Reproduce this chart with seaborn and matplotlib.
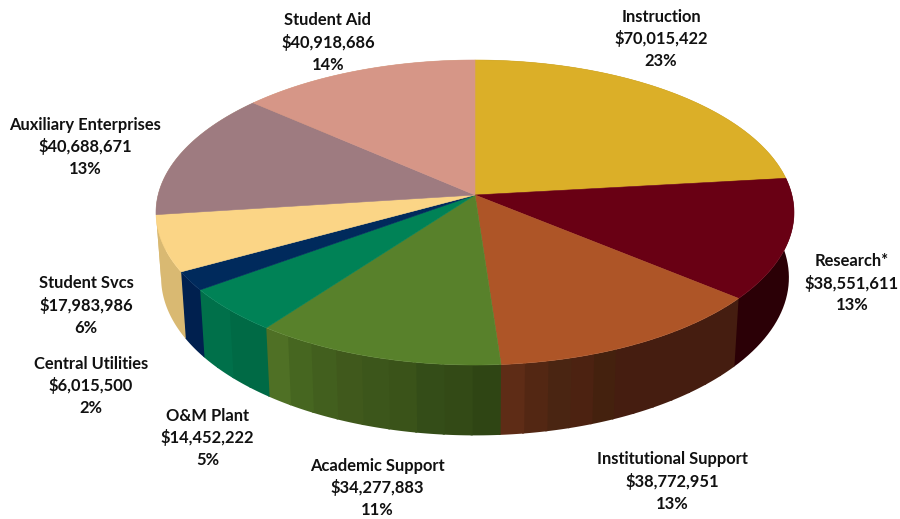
import numpy as np
import matplotlib
matplotlib.use("Agg")
import matplotlib.pyplot as plt
import seaborn as sns

categories = ["Instruction", "Research*", "Institutional Support", "Academic Support",
              "O&M Plant", "Central Utilities", "Student Svcs",
              "Auxiliary Enterprises", "Student Aid"]
amounts = [70015422, 38551611, 38772951, 34277883, 14452222, 6015500, 17983986,
           40688671, 40918686]
top_colors = ["#dbaf28", "#690014", "#ae5527", "#58812b", "#008256", "#002a5c",
              "#fbd586", "#9e7b80", "#d69687"]
wall_bands = [
    ["#8a6f19"],
    ["#2b0006"],
    ["#451d10"] * 7 + ["#44210e", "#4c2211", "#4a2512", "#532713", "#5e2c16"],
    ["#2f4514", "#334a16", "#344d18", "#3a5319", "#3c561b", "#40591c", "#425f1e",
     "#466620", "#4f7025"],
    ["#006a45", "#006a45", "#00704a", "#00704a"],
    ["#00204f"],
    ["#d9b972"],
    ["#d9b972"],
    ["#d9b972"],
]
label_centers = [(661, 38.7), (852, 283), (672, 481.5), (377, 487.7), (207.5, 437.7),
                 (91, 385.7), (86, 305.5), (85, 146.7), (328, 42.5)]

sns.set_theme(style="white")
plt.rcParams["font.family"] = ["Lato", "DejaVu Sans"]
palette = sns.color_palette(top_colors)

# projection of the tilted disc on to the page
APEX_X, APEX_Y = 475, 195
SCALE_X, SCALE_Y, TILT = 316.9, 150.5, 0.1148


def top_rim(theta):
    """theta in radians, clockwise from twelve o'clock."""
    x, y = np.sin(theta), np.cos(theta)
    d = 1 + TILT * y
    return APEX_X + SCALE_X * x / d, APEX_Y - SCALE_Y * y / d


def bottom_rim(theta):
    x, y = top_rim(theta)
    return APEX_X + (x - APEX_X) * 0.984, y * 1.035 + 57.6


fig, ax = plt.subplots(figsize=(9, 5.19), dpi=100)
fig.subplots_adjust(0, 0, 1, 1)
ax.set_xlim(0, 900)
ax.set_ylim(519, 0)
ax.axis("off")

total = sum(amounts)
edges = 2 * np.pi * np.concatenate([[0], np.cumsum(amounts)]) / total

# side wall, painted first so that the top face hides its far half;
# each band runs on under the next one so no seam shows between them
for start, stop, bands in zip(edges[:-1], edges[1:], wall_bands):
    cuts = np.linspace(start, stop, len(bands) + 1)
    for a, b, shade in zip(cuts[:-1], cuts[1:], bands):
        t = np.linspace(a, min(b + 0.006, edges[-1]), 30)
        xt, yt = top_rim(t)
        xb, yb = bottom_rim(t)
        ax.fill(np.r_[xt, xb[::-1]], np.r_[yt, yb[::-1]], facecolor=shade,
                edgecolor="none", lw=0, zorder=1)

# top face
for start, stop, color in zip(edges[:-1], edges[1:], palette):
    t = np.linspace(start, stop, 120)
    xt, yt = top_rim(t)
    ax.fill(np.r_[APEX_X, xt], np.r_[APEX_Y, yt], color=color, lw=0.4, zorder=2)

for name, value, (cx, cy) in zip(categories, amounts, label_centers):
    share = round(100 * value / total)
    ax.text(cx, cy, f"{name}\n${value:,}\n{share}%", ha="center", va="center",
            fontsize=11.9, fontweight="bold", color="#111111", linespacing=1.42, zorder=3)

fig.savefig("out.png", dpi=100, facecolor="white")
